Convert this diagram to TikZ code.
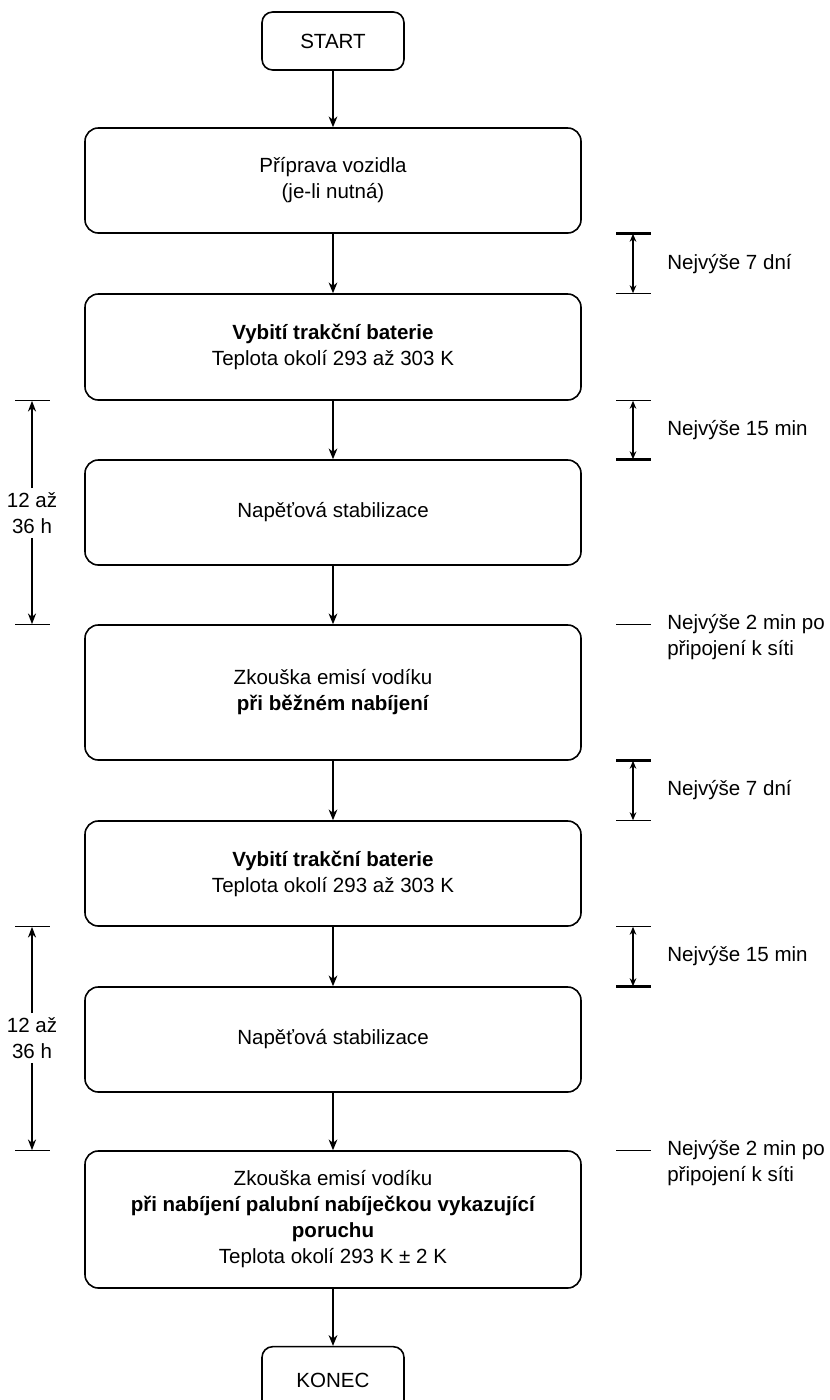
\documentclass[tikz,border=0pt]{standalone}
\usepackage{fontspec}
\setmainfont{Liberation Sans}
\usepackage{tikz}
\usetikzlibrary{arrows.meta}

\tikzset{
  stagebox/.style={draw, line width=1.2pt, rounded corners=10pt, align=center, minimum width=372pt, inner sep=2pt},
  endbox/.style={draw, line width=1.2pt, rounded corners=8pt, minimum width=106.5pt, minimum height=43.5pt},
  flowarrow/.style={line width=1.4pt, -{Stealth[length=8pt,width=6.5pt,inset=2.5pt]}},
  spanarrow/.style={line width=0.8pt, {Stealth[length=6pt,width=5pt,inset=2pt]}-{Stealth[length=6pt,width=5pt,inset=2pt]}},
  longarrow/.style={line width=1.4pt, -{Stealth[length=8pt,width=6pt,inset=2.5pt]}},
  tickthin/.style={line width=0.8pt},
  tickthick/.style={line width=2pt},
  sidetext/.style={anchor=west, inner sep=0pt, align=left},
  spantext/.style={inner sep=3pt, align=center},
}

\begin{document}
\begin{tikzpicture}[x=0.75pt,y=0.75pt,yscale=-1,xscale=1, font=\fontsize{15.4}{19.5}\selectfont]
  %set diagram left start at 0, and has height of 1400
  \path[use as bounding box, clip] (0,0) rectangle (830,1400);

  %Rounded Rect
  \node[endbox] (start) at (333,41) {START};
  %Rounded Rect
  \node[stagebox, minimum height=78.75pt] (prep) at (333,180.5) {Příprava vozidla\\(je-li nutná)};
  %Rounded Rect
  \node[stagebox, minimum height=79.5pt] (disch1) at (333,347) {\textbf{Vybití trakční baterie}\\Teplota okolí 293 až 303 K};
  %Rounded Rect
  \node[stagebox, minimum height=78.75pt] (stab1) at (333,512.5) {Napěťová stabilizace};
  %Rounded Rect
  \node[stagebox, minimum height=101.25pt] (test1) at (333,692.5) {Zkouška emisí vodíku\\\textbf{při běžném nabíjení}};
  %Rounded Rect
  \node[stagebox, minimum height=78.75pt] (disch2) at (333,873.5) {\textbf{Vybití trakční baterie}\\Teplota okolí 293 až 303 K};
  %Rounded Rect
  \node[stagebox, minimum height=78.75pt] (stab2) at (333,1039.5) {Napěťová stabilizace};
  %Rounded Rect
  \node[stagebox, minimum height=102.75pt] (test2) at (333,1219.5) {Zkouška emisí vodíku\\\textbf{při nabíjení palubní nabíječkou vykazující}\\\textbf{poruchu}\\Teplota okolí 293 K ± 2 K};
  %Rounded Rect (runs off the bottom edge)
  \node[endbox, minimum height=50pt] (finish) at (333,1380) {KONEC};

  % Flow arrows
  \draw[flowarrow] (start) -- (prep);
  \draw[flowarrow] (prep) -- (disch1);
  \draw[flowarrow] (disch1) -- (stab1);
  \draw[flowarrow] (stab1) -- (test1);
  \draw[flowarrow] (test1) -- (disch2);
  \draw[flowarrow] (disch2) -- (stab2);
  \draw[flowarrow] (stab2) -- (test2);
  \draw[flowarrow] (test2) -- (finish);

  % Right span: prep -> disch1
  \draw[tickthick] (616,0 |- prep.south) -- (651,0 |- prep.south);
  \draw[tickthin] (616,0 |- disch1.north) -- (651,0 |- disch1.north);
  \coordinate (r1a) at (633,0 |- prep.south);
  \coordinate (r1b) at (633,0 |- disch1.north);
  \draw[spanarrow] (r1a) -- (r1b);
  % Text Node
  \node[sidetext] (r1t) at (667,264) {Nejvýše 7 dní};

  % Right span: disch1 -> stab1
  \draw[tickthin] (616,0 |- disch1.south) -- (651,0 |- disch1.south);
  \draw[tickthick] (616,0 |- stab1.north) -- (651,0 |- stab1.north);
  \coordinate (r2a) at (633,0 |- disch1.south);
  \coordinate (r2b) at (633,0 |- stab1.north);
  \draw[spanarrow] (r2a) -- (r2b);
  % Text Node
  \node[sidetext] (r2t) at (667,430) {Nejvýše 15 min};

  % Right mark: test1
  \draw[tickthin] (616,0 |- test1.north) -- (651,0 |- test1.north);
  % Text Node
  \node[sidetext] (r3t) at (667,637) {Nejvýše 2 min po\\připojení k síti};

  % Right span: test1 -> disch2
  \draw[tickthick] (616,0 |- test1.south) -- (651,0 |- test1.south);
  \draw[tickthin] (616,0 |- disch2.north) -- (651,0 |- disch2.north);
  \coordinate (r4a) at (633,0 |- test1.south);
  \coordinate (r4b) at (633,0 |- disch2.north);
  \draw[spanarrow] (r4a) -- (r4b);
  % Text Node
  \node[sidetext] (r4t) at (667,790.5) {Nejvýše 7 dní};

  % Right span: disch2 -> stab2
  \draw[tickthin] (616,0 |- disch2.south) -- (651,0 |- disch2.south);
  \draw[tickthick] (616,0 |- stab2.north) -- (651,0 |- stab2.north);
  \coordinate (r5a) at (633,0 |- disch2.south);
  \coordinate (r5b) at (633,0 |- stab2.north);
  \draw[spanarrow] (r5a) -- (r5b);
  % Text Node
  \node[sidetext] (r5t) at (667,956.5) {Nejvýše 15 min};

  % Right mark: test2
  \draw[tickthin] (616,0 |- test2.north) -- (651,0 |- test2.north);
  % Text Node
  \node[sidetext] (r6t) at (667,1163) {Nejvýše 2 min po\\připojení k síti};

  % Left span: disch1 -> test1
  \draw[tickthin] (15,0 |- disch1.south) -- (50,0 |- disch1.south);
  \draw[tickthin] (15,0 |- test1.north) -- (50,0 |- test1.north);
  \coordinate (l1a) at (32,0 |- disch1.south);
  \coordinate (l1b) at (32,0 |- test1.north);
  % Text Node
  \node[spantext] (l1t) at (32,513) {12 až\\36 h};
  \draw[longarrow] (l1t) -- (l1a);
  \draw[longarrow] (l1t) -- (l1b);

  % Left span: disch2 -> test2
  \draw[tickthin] (15,0 |- disch2.south) -- (50,0 |- disch2.south);
  \draw[tickthin] (15,0 |- test2.north) -- (50,0 |- test2.north);
  \coordinate (l2a) at (32,0 |- disch2.south);
  \coordinate (l2b) at (32,0 |- test2.north);
  % Text Node
  \node[spantext] (l2t) at (32,1038) {12 až\\36 h};
  \draw[longarrow] (l2t) -- (l2a);
  \draw[longarrow] (l2t) -- (l2b);

\end{tikzpicture}
\end{document}
